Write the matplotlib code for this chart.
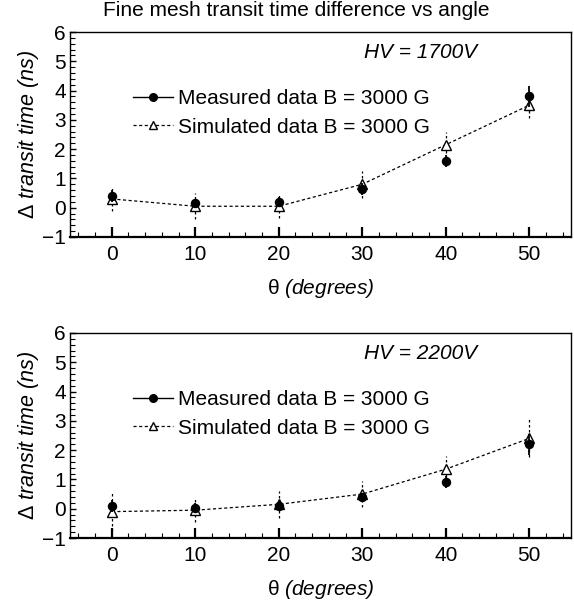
import matplotlib
matplotlib.use("Agg")
import matplotlib.pyplot as plt
from matplotlib.ticker import MultipleLocator
from matplotlib.lines import Line2D

plt.rcParams['font.family'] = ['Liberation Sans', 'DejaVu Sans']
plt.rcParams['mathtext.fontset'] = 'custom'
plt.rcParams['mathtext.rm'] = 'Liberation Sans:italic'
plt.rcParams['mathtext.it'] = 'Liberation Sans:italic'
plt.rcParams['mathtext.sf'] = 'Liberation Sans'
plt.rcParams['mathtext.default'] = 'it'

angles = [0, 10, 20, 30, 40, 50]

meas_1700 = [0.4, 0.15, 0.2, 0.65, 1.6, 3.8]
meas_1700_err = [0.2, 0.15, 0.15, 0.2, 0.2, 0.35]
sim_1700 = [0.3, 0.05, 0.05, 0.8, 2.15, 3.5]
sim_1700_err = [0.4, 0.45, 0.4, 0.47, 0.45, 0.45]

meas_2200 = [0.1, 0.03, 0.1, 0.4, 0.92, 2.2]
meas_2200_err = [0.2, 0.15, 0.15, 0.15, 0.2, 0.35]
sim_2200 = [-0.1, -0.05, 0.15, 0.5, 1.35, 2.4]
sim_2200_err = [0.65, 0.4, 0.45, 0.45, 0.45, 0.65]

panels = [
    ("HV = 1700V", meas_1700, meas_1700_err, sim_1700, sim_1700_err),
    ("HV = 2200V", meas_2200, meas_2200_err, sim_2200, sim_2200_err),
]

fig = plt.figure(figsize=(5.74, 6.07), dpi=100)
W, H = 574, 607
rects = [[70 / W, 1 - 237 / H, 501 / W, 205 / H],
         [70 / W, 1 - 538 / H, 501 / W, 205 / H]]

for rect, (hv, m, me, s, se) in zip(rects, panels):
    ax = fig.add_axes(rect)
    # simulated
    eb = ax.errorbar(angles, s, yerr=se, fmt='none', ecolor='black', elinewidth=0.9, capsize=0, zorder=2)
    eb[2][0].set_linestyle((0, (2, 2)))
    ax.plot(angles, s, linestyle=(0, (2.5, 2)), color='black', linewidth=0.9,
            marker='^', markersize=6.5, markerfacecolor='white', markeredgecolor='black',
            markeredgewidth=1.0, zorder=3)
    # measured
    ax.errorbar(angles, m, yerr=me, fmt='o', color='black', markersize=5.8,
                elinewidth=1.3, capsize=0, zorder=4)

    ax.set_xlim(-5, 55)
    ax.set_ylim(-1, 6)
    ax.xaxis.set_major_locator(MultipleLocator(10))
    ax.xaxis.set_minor_locator(MultipleLocator(2))
    ax.yaxis.set_major_locator(MultipleLocator(1))
    ax.yaxis.set_minor_locator(MultipleLocator(0.2))
    ax.tick_params(axis='both', which='both', direction='in', top=False, right=False)
    ax.tick_params(axis='x', which='major', length=7, width=1.6, labelsize=15, pad=6)
    ax.tick_params(axis='y', which='major', length=4, width=1.0, labelsize=15, pad=3)
    ax.tick_params(which='minor', length=3.5, width=0.8)
    for sp in ax.spines.values():
        sp.set_linewidth(1.0)
    ax.spines['bottom'].set_linewidth(1.6)

    ax.set_xlabel(r'$\mathsf{\theta}\ (degrees)$', fontsize=15, labelpad=9)
    ax.set_ylabel(r'$\mathsf{\Delta}\ transit\ time\ (ns)$', fontsize=15.5, labelpad=1)

    ax.text(0.587, 0.90, hv, transform=ax.transAxes, fontsize=15, style='italic', ha='left', va='center')

    h1 = Line2D([], [], color='black', linestyle='-', linewidth=1.0, marker='o', markersize=5.5)
    h2 = Line2D([], [], color='black', linestyle=(0, (2.5, 2)), linewidth=0.9, marker='^',
                markersize=6, markerfacecolor='white', markeredgecolor='black')
    ax.legend([h1, h2], ['Measured data B = 3000 G', 'Simulated data B = 3000 G'],
              loc='upper left', bbox_to_anchor=(0.126, 0.72), frameon=False, fontsize=15,
              handlelength=1.9, handletextpad=0.25, labelspacing=0.45, borderaxespad=0,
              borderpad=0)

fig.text(296 / W, 1 - 10 / H, 'Fine mesh transit time difference vs angle', fontsize=15,
         ha='center', va='center')

fig.savefig('out.png', dpi=100)
